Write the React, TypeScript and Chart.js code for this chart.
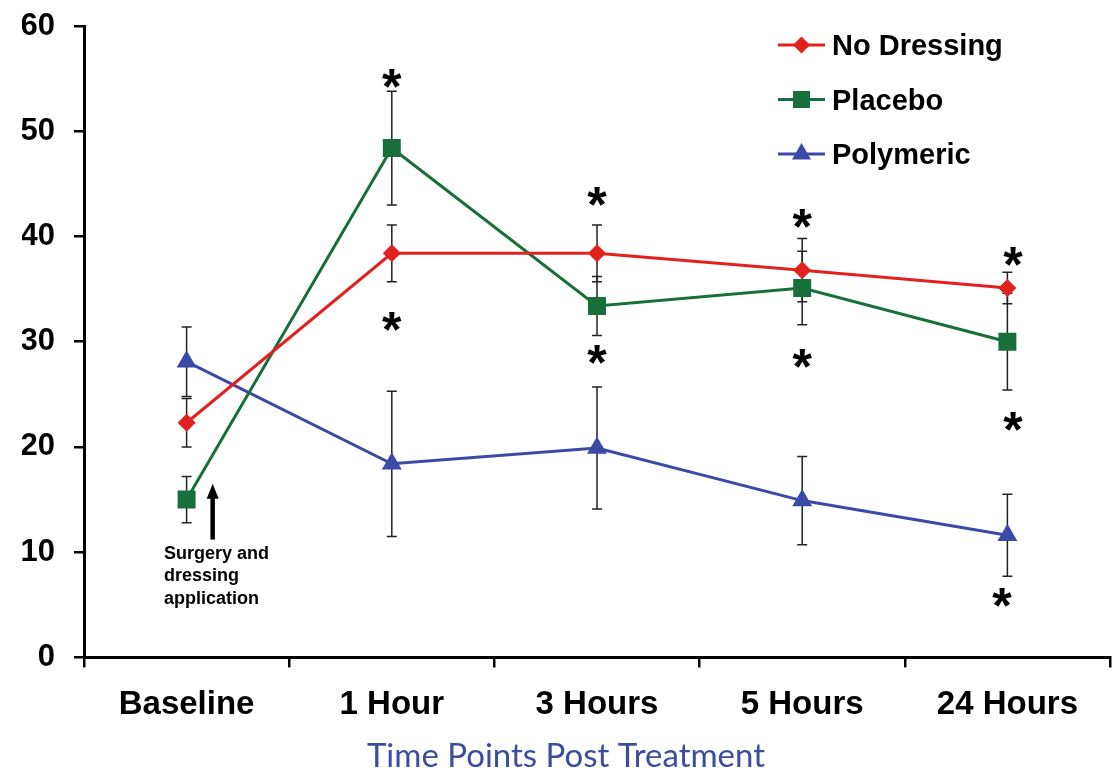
import React, { useEffect, useRef } from 'react';
import { Chart, registerables } from 'chart.js';

Chart.register(...registerables);

// ---------- data ----------
const categories = ['Baseline', '1 Hour', '3 Hours', '5 Hours', '24 Hours'];
const seriesNames = ['No Dressing', 'Placebo', 'Polymeric'];
const noDressing = [22.3, 38.4, 38.4, 36.8, 35.1];
const placebo = [15.0, 48.4, 33.4, 35.1, 30.0];
const polymeric = [28.1, 18.4, 19.9, 14.9, 11.6];
const noDressingErr = [2.3, 2.7, 2.7, 3.0, 1.5];
const placeboErr = [2.2, 5.4, 2.8, 3.5, 4.6];
const polymericErr = [3.3, 6.9, 5.8, 4.2, 3.9];
const yTicks = [0, 10, 20, 30, 40, 50, 60];
const xTitle = 'Time Points Post Treatment';

// significance markers (category index, value, small category shift)
const starCategory = [1, 1, 2, 2, 3, 3, 4, 4, 4];
const starValue = [55.0, 31.9, 43.8, 28.8, 41.7, 28.4, 38.1, 22.4, 5.7];
const starShift = [0, 0, 0, 0, 0, 0, 0.027, 0.027, -0.027];

// annotation
const noteLines = ['Surgery and', 'dressing', 'application'];
const noteCategory = 0;
const noteShift = -0.11;
const noteValue = 10.0;
const arrowShift = 0.127;
const arrowFrom = 11.2;
const arrowTo = 16.5;

// ---------- styles ----------
const W = 1117;
const H = 770;
const colors = ['#e2211f', '#17703a', '#3b49a7'];
const pointStyles = ['rectRot', 'rect', 'triangle'];
const pointRadii = [9, 12.7, 11.5];
const FONT = '"Liberation Sans", Arial, sans-serif';

const seriesValues = [noDressing, placebo, polymeric];
const seriesErrors = [noDressingErr, placeboErr, polymericErr];

function drawMarker(ctx: CanvasRenderingContext2D, style: string, x: number, y: number, r: number, color: string) {
  ctx.save();
  ctx.fillStyle = color;
  ctx.beginPath();
  if (style === 'rectRot') {
    ctx.moveTo(x - r, y);
    ctx.lineTo(x, y - r);
    ctx.lineTo(x + r, y);
    ctx.lineTo(x, y + r);
  } else if (style === 'rect') {
    const s = Math.SQRT1_2 * r;
    ctx.rect(x - s, y - s, 2 * s, 2 * s);
  } else {
    const a = (2 * Math.PI) / 3;
    ctx.moveTo(x, y - r);
    ctx.lineTo(x + Math.sin(a) * r, y - Math.cos(a) * r);
    ctx.lineTo(x + Math.sin(2 * a) * r, y - Math.cos(2 * a) * r);
  }
  ctx.closePath();
  ctx.fill();
  ctx.restore();
}

const overlayPlugin = {
  id: 'overlay',
  beforeDatasetsDraw(chart: any) {
    const ctx: CanvasRenderingContext2D = chart.ctx;
    const xs = chart.scales.x;
    const ys = chart.scales.y;
    ctx.save();
    ctx.strokeStyle = '#222';
    ctx.lineWidth = 1.5;
    seriesValues.forEach((vals, s) => {
      vals.forEach((v, i) => {
        const e = seriesErrors[s][i];
        const px = xs.getPixelForValue(i);
        const top = ys.getPixelForValue(v + e);
        const bot = ys.getPixelForValue(v - e);
        ctx.beginPath();
        ctx.moveTo(px, top);
        ctx.lineTo(px, bot);
        ctx.moveTo(px - 5, top);
        ctx.lineTo(px + 5, top);
        ctx.moveTo(px - 5, bot);
        ctx.lineTo(px + 5, bot);
        ctx.stroke();
      });
    });
    ctx.restore();
  },
  afterDatasetsDraw(chart: any) {
    const ctx: CanvasRenderingContext2D = chart.ctx;
    const xs = chart.scales.x;
    const ys = chart.scales.y;
    const catW = xs.getPixelForValue(1) - xs.getPixelForValue(0);
    ctx.save();

    // asterisks
    ctx.fillStyle = '#000';
    ctx.font = `bold 50px ${FONT}`;
    ctx.textAlign = 'center';
    ctx.textBaseline = 'alphabetic';
    const m = ctx.measureText('*');
    const asc = m.actualBoundingBoxAscent;
    const desc = m.actualBoundingBoxDescent;
    starCategory.forEach((c, i) => {
      const px = xs.getPixelForValue(c) + starShift[i] * catW;
      const py = ys.getPixelForValue(starValue[i]);
      ctx.fillText('*', px, py + (asc - desc) / 2);
    });

    // annotation arrow
    const ax = xs.getPixelForValue(noteCategory) + arrowShift * catW;
    const ay0 = ys.getPixelForValue(arrowFrom);
    const ay1 = ys.getPixelForValue(arrowTo);
    ctx.strokeStyle = '#000';
    ctx.lineWidth = 4.5;
    ctx.beginPath();
    ctx.moveTo(ax, ay0);
    ctx.lineTo(ax, ay1 + 12);
    ctx.stroke();
    ctx.beginPath();
    ctx.moveTo(ax, ay1);
    ctx.lineTo(ax - 6, ay1 + 15);
    ctx.lineTo(ax + 6, ay1 + 15);
    ctx.closePath();
    ctx.fill();

    // annotation text
    ctx.font = `bold 18px ${FONT}`;
    ctx.textAlign = 'left';
    const nx = xs.getPixelForValue(noteCategory) + noteShift * catW;
    const ny = ys.getPixelForValue(noteValue);
    noteLines.forEach((t, i) => {
      ctx.fillText(t, nx, ny + 6.5 + i * 22.5);
    });

    // legend
    const lx = 778;
    const lineLen = 47;
    ctx.font = `bold 29px ${FONT}`;
    seriesNames.forEach((name, i) => {
      const ly = 45 + i * 54.5;
      ctx.strokeStyle = colors[i];
      ctx.lineWidth = 3;
      ctx.beginPath();
      ctx.moveTo(lx, ly);
      ctx.lineTo(lx + lineLen, ly);
      ctx.stroke();
      drawMarker(ctx, pointStyles[i], lx + lineLen / 2, ly, pointRadii[i] * 0.95, colors[i]);
      ctx.fillStyle = '#000';
      ctx.fillText(name, lx + lineLen + 7, ly + 10);
    });
    ctx.restore();
  },
};

export default function App() {
  const canvasRef = useRef<HTMLCanvasElement | null>(null);

  useEffect(() => {
    if (!canvasRef.current) return;
    const chart = new Chart(canvasRef.current, {
      type: 'line',
      data: {
        labels: categories,
        datasets: seriesNames.map((name, i) => ({
          label: name,
          data: seriesValues[i],
          borderColor: colors[i],
          backgroundColor: colors[i],
          borderWidth: 3,
          pointStyle: pointStyles[i] as any,
          pointRadius: pointRadii[i],
          pointBackgroundColor: colors[i],
          pointBorderColor: colors[i],
          pointBorderWidth: 0,
          tension: 0,
          fill: false,
        })),
      },
      options: {
        animation: false,
        responsive: false,
        maintainAspectRatio: false,
        devicePixelRatio: 1,
        layout: { autoPadding: false, padding: { top: 26, right: 7, left: 22, bottom: 0 } },
        plugins: {
          legend: { display: false },
          tooltip: { enabled: false },
          title: {
            display: true,
            position: 'bottom',
            text: xTitle,
            color: '#3a4d9f',
            font: { family: 'Lato, "Open Sans", sans-serif', size: 33, weight: 'normal' },
            padding: { top: 6, bottom: -6 },
          },
        },
        scales: {
          x: {
            type: 'category',
            offset: true,
            afterFit: (s: any) => {
              s.height = 73;
              s.paddingLeft = 0;
              s.paddingRight = 0;
            },
            grid: {
              offset: true,
              drawOnChartArea: false,
              drawTicks: true,
              tickLength: 10,
              color: '#000',
              lineWidth: 2.5,
            },
            border: { display: true, color: '#000', width: 3 },
            ticks: {
              color: '#000',
              font: { family: FONT, size: 33, weight: 'bold' },
              padding: 18,
              maxRotation: 0,
              autoSkip: false,
            },
          },
          y: {
            min: 0,
            max: 60,
            afterFit: (s: any) => {
              s.width = 62;
              s.paddingTop = 0;
              s.paddingBottom = 0;
            },
            afterBuildTicks: (s: any) => {
              s.ticks = yTicks.map((v) => ({ value: v }));
            },
            grid: {
              drawOnChartArea: false,
              drawTicks: true,
              tickLength: 10,
              color: '#000',
              lineWidth: 2.5,
            },
            border: { display: true, color: '#000', width: 3 },
            ticks: {
              color: '#000',
              font: { family: FONT, size: 31, weight: 'bold' },
              padding: 19,
            },
          },
        },
      },
      plugins: [overlayPlugin],
    });
    return () => chart.destroy();
  }, []);

  return (
    <div style={{ position: 'fixed', left: 0, top: 0, width: W, height: H, background: '#fff' }}>
      <canvas ref={canvasRef} width={W} height={H} style={{ display: 'block', width: W, height: H }} />
    </div>
  );
}
